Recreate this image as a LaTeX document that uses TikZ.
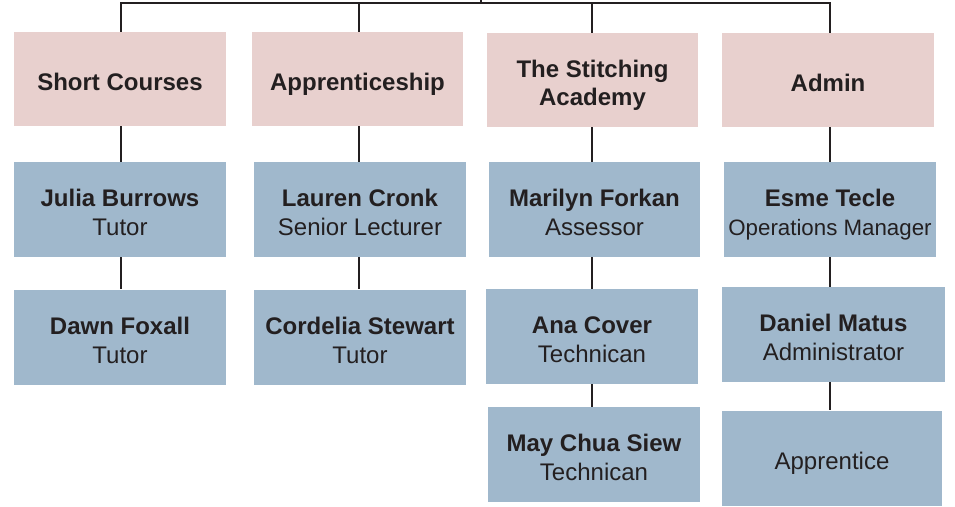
\documentclass[tikz,border=0pt]{standalone}
\usepackage{fontspec}
\setmainfont{Liberation Sans}
\usetikzlibrary{positioning}

\definecolor{deptpink}{RGB}{232,208,206}
\definecolor{staffblue}{RGB}{160,184,204}
\definecolor{inkdark}{RGB}{35,31,32}

\begin{document}
\begin{tikzpicture}[
    x=1pt, y=-1pt,
    dept/.style={rectangle, fill=deptpink, text=inkdark, minimum width=212pt, minimum height=94pt,
        align=center, inner sep=0pt, text height=24pt, text depth=0.8pt,
        font=\fontsize{24}{28}\selectfont\bfseries},
    staff/.style={rectangle, fill=staffblue, text=inkdark, minimum width=212pt, minimum height=95pt,
        align=center, inner sep=0pt, text height=53pt, text depth=0.8pt,
        font=\fontsize{24}{29}\selectfont},
    link/.style={draw=inkdark, line width=2pt}
]
    \useasboundingbox (0,0) rectangle (955,506);

    % Departments
    \node[dept] (sc) at (120,79) {Short Courses};
    \node[dept, minimum width=211pt] (ap) at (357.5,79) {Apprenticeship};
    \node[dept, minimum width=211pt, text height=52pt] (sa) at (592.5,80) {The Stitching\\Academy};
    \node[dept] (ad) at (828,80) {Admin};

    % Staff
    \node[staff] (jb) at (120,209.5) {\textbf{Julia Burrows}\\Tutor};
    \node[staff] (df) at (120,337) {\textbf{Dawn Foxall}\\Tutor};
    \node[staff] (lc) at (360,209.5) {\textbf{Lauren Cronk}\\Senior Lecturer};
    \node[staff] (cs) at (360,337) {\textbf{Cordelia Stewart}\\Tutor};
    \node[staff, minimum width=211pt] (mf) at (594.5,209.5) {\textbf{Marilyn Forkan}\\Assessor};
    \node[staff] (ac) at (592,336.5) {\textbf{Ana Cover}\\Technican};
    \node[staff] (mc) at (594,454.5) {\textbf{May Chua Siew}\\Technican};
    \node[staff] (et) at (830,209.5) {\textbf{Esme Tecle}\\{\fontsize{22.3}{29}\selectfont Operations Manager}};
    \node[staff, minimum width=223pt] (dm) at (833.5,334.5) {\textbf{Daniel Matus}\\Administrator};
    \node[staff, minimum width=220pt, text height=24pt] (apr) at (832,458) {Apprentice};

    % Top bus
    \coordinate (top) at (481,0);
    \coordinate (bus) at (481,3);
    \draw[link] (top) -- (bus);
    \draw[link] ([xshift=1pt]sc.north) |- (bus);
    \draw[link] (bus) -| ([xshift=2pt]ad.north);
    \draw[link] ([xshift=1.5pt]ap.north) -- ([xshift=1.5pt]ap.north |- bus);
    \draw[link] ([xshift=-0.5pt]sa.north) -- ([xshift=-0.5pt]sa.north |- bus);

    % Connections
    \draw[link] ([xshift=1pt]sc.south) -- ([xshift=1pt]sc.south |- jb.north);
    \draw[link] ([xshift=1pt]jb.south) -- ([xshift=1pt]jb.south |- df.north);
    \draw[link] ([xshift=1.5pt]ap.south) -- ([xshift=1.5pt]ap.south |- lc.north);
    \draw[link] ([xshift=-1pt]lc.south) -- ([xshift=-1pt]lc.south |- cs.north);
    \draw[link] ([xshift=-0.5pt]sa.south) -- ([xshift=-0.5pt]sa.south |- mf.north);
    \draw[link] ([xshift=-2.5pt]mf.south) -- ([xshift=-2.5pt]mf.south |- ac.north);
    \draw[link] (ac.south) -- (ac.south |- mc.north);
    \draw[link] ([xshift=2pt]ad.south) -- ([xshift=2pt]ad.south |- et.north);
    \draw[link] (et.south) -- (et.south |- dm.north);
    \draw[link] ([xshift=-3.5pt]dm.south) -- ([xshift=-3.5pt]dm.south |- apr.north);
\end{tikzpicture}
\end{document}
